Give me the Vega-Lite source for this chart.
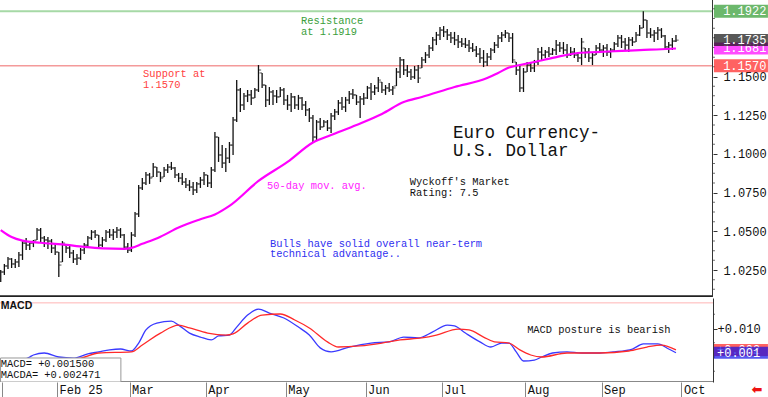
{
"$schema": "https://vega.github.io/schema/vega-lite/v6.json",
"padding": 0,
"background": "white",
"spacing": 1,
"bounds": "flush",
"config": {"view": {"stroke": null}},
"datasets": {
"ohlc": [
{"i":0,"o":1.0185,"h":1.0250,"l":1.0172,"c":1.0237},
{"i":1,"o":1.0237,"h":1.0289,"l":1.0218,"c":1.0276},
{"i":2,"o":1.0276,"h":1.0334,"l":1.0257,"c":1.0321},
{"i":3,"o":1.0321,"h":1.0327,"l":1.0263,"c":1.0289},
{"i":4,"o":1.0289,"h":1.0321,"l":1.0263,"c":1.0302},
{"i":5,"o":1.0302,"h":1.0366,"l":1.0269,"c":1.0347},
{"i":6,"o":1.0347,"h":1.0437,"l":1.0315,"c":1.0424},
{"i":7,"o":1.0424,"h":1.0457,"l":1.0379,"c":1.0411},
{"i":8,"o":1.0411,"h":1.0437,"l":1.0379,"c":1.0424},
{"i":9,"o":1.0424,"h":1.0444,"l":1.0398,"c":1.0437},
{"i":10,"o":1.0444,"h":1.0521,"l":1.0444,"c":1.0508},
{"i":11,"o":1.0508,"h":1.0521,"l":1.0424,"c":1.0457},
{"i":12,"o":1.0457,"h":1.0469,"l":1.0398,"c":1.0444},
{"i":13,"o":1.0444,"h":1.0463,"l":1.0386,"c":1.0437},
{"i":14,"o":1.0437,"h":1.0450,"l":1.0360,"c":1.0392},
{"i":15,"o":1.0392,"h":1.0424,"l":1.0347,"c":1.0366},
{"i":16,"o":1.0366,"h":1.0366,"l":1.0205,"c":1.0282},
{"i":17,"o":1.0302,"h":1.0437,"l":1.0302,"c":1.0424},
{"i":18,"o":1.0411,"h":1.0411,"l":1.0360,"c":1.0392},
{"i":19,"o":1.0392,"h":1.0411,"l":1.0327,"c":1.0360},
{"i":20,"o":1.0360,"h":1.0379,"l":1.0295,"c":1.0321},
{"i":21,"o":1.0321,"h":1.0353,"l":1.0282,"c":1.0327},
{"i":22,"o":1.0327,"h":1.0392,"l":1.0315,"c":1.0379},
{"i":23,"o":1.0379,"h":1.0424,"l":1.0353,"c":1.0411},
{"i":24,"o":1.0411,"h":1.0469,"l":1.0398,"c":1.0457},
{"i":25,"o":1.0457,"h":1.0508,"l":1.0444,"c":1.0495},
{"i":26,"o":1.0495,"h":1.0508,"l":1.0457,"c":1.0476},
{"i":27,"o":1.0476,"h":1.0476,"l":1.0392,"c":1.0411},
{"i":28,"o":1.0411,"h":1.0463,"l":1.0398,"c":1.0444},
{"i":29,"o":1.0444,"h":1.0508,"l":1.0431,"c":1.0495},
{"i":30,"o":1.0495,"h":1.0515,"l":1.0457,"c":1.0476},
{"i":31,"o":1.0476,"h":1.0515,"l":1.0444,"c":1.0495},
{"i":32,"o":1.0495,"h":1.0528,"l":1.0457,"c":1.0508},
{"i":33,"o":1.0508,"h":1.0521,"l":1.0457,"c":1.0476},
{"i":34,"o":1.0476,"h":1.0482,"l":1.0379,"c":1.0398},
{"i":35,"o":1.0398,"h":1.0424,"l":1.0360,"c":1.0379},
{"i":36,"o":1.0379,"h":1.0495,"l":1.0366,"c":1.0476},
{"i":37,"o":1.0476,"h":1.0625,"l":1.0463,"c":1.0612},
{"i":38,"o":1.0612,"h":1.0799,"l":1.0592,"c":1.0780},
{"i":39,"o":1.0780,"h":1.0844,"l":1.0767,"c":1.0812},
{"i":40,"o":1.0812,"h":1.0883,"l":1.0799,"c":1.0864},
{"i":41,"o":1.0864,"h":1.0877,"l":1.0806,"c":1.0844},
{"i":42,"o":1.0851,"h":1.0941,"l":1.0851,"c":1.0915},
{"i":43,"o":1.0915,"h":1.0915,"l":1.0851,"c":1.0883},
{"i":44,"o":1.0883,"h":1.0883,"l":1.0818,"c":1.0844},
{"i":45,"o":1.0851,"h":1.0915,"l":1.0851,"c":1.0896},
{"i":46,"o":1.0896,"h":1.0935,"l":1.0877,"c":1.0915},
{"i":47,"o":1.0915,"h":1.0948,"l":1.0896,"c":1.0909},
{"i":48,"o":1.0909,"h":1.0915,"l":1.0844,"c":1.0864},
{"i":49,"o":1.0864,"h":1.0877,"l":1.0818,"c":1.0844},
{"i":50,"o":1.0844,"h":1.0877,"l":1.0799,"c":1.0818},
{"i":51,"o":1.0818,"h":1.0844,"l":1.0780,"c":1.0799},
{"i":52,"o":1.0799,"h":1.0831,"l":1.0760,"c":1.0786},
{"i":53,"o":1.0786,"h":1.0818,"l":1.0735,"c":1.0767},
{"i":54,"o":1.0767,"h":1.0818,"l":1.0747,"c":1.0806},
{"i":55,"o":1.0806,"h":1.0851,"l":1.0780,"c":1.0831},
{"i":56,"o":1.0831,"h":1.0883,"l":1.0799,"c":1.0864},
{"i":57,"o":1.0864,"h":1.0864,"l":1.0786,"c":1.0812},
{"i":58,"o":1.0812,"h":1.0915,"l":1.0780,"c":1.0896},
{"i":59,"o":1.0896,"h":1.1142,"l":1.0883,"c":1.1109},
{"i":60,"o":1.1109,"h":1.1109,"l":1.0948,"c":1.0993},
{"i":61,"o":1.0993,"h":1.1057,"l":1.0909,"c":1.0941},
{"i":62,"o":1.0941,"h":1.1038,"l":1.0883,"c":1.0973},
{"i":63,"o":1.0973,"h":1.1077,"l":1.0941,"c":1.1057},
{"i":64,"o":1.1057,"h":1.1238,"l":1.0993,"c":1.1219},
{"i":65,"o":1.1219,"h":1.1477,"l":1.1206,"c":1.1413},
{"i":66,"o":1.1413,"h":1.1426,"l":1.1271,"c":1.1316},
{"i":67,"o":1.1316,"h":1.1393,"l":1.1284,"c":1.1374},
{"i":68,"o":1.1374,"h":1.1413,"l":1.1335,"c":1.1381},
{"i":69,"o":1.1381,"h":1.1413,"l":1.1316,"c":1.1361},
{"i":70,"o":1.1361,"h":1.1426,"l":1.1361,"c":1.1413},
{"i":71,"o":1.1413,"h":1.1574,"l":1.1400,"c":1.1542},
{"i":72,"o":1.1523,"h":1.1523,"l":1.1426,"c":1.1445},
{"i":73,"o":1.1445,"h":1.1445,"l":1.1303,"c":1.1348},
{"i":74,"o":1.1348,"h":1.1432,"l":1.1316,"c":1.1400},
{"i":75,"o":1.1400,"h":1.1413,"l":1.1316,"c":1.1374},
{"i":76,"o":1.1374,"h":1.1413,"l":1.1329,"c":1.1368},
{"i":77,"o":1.1368,"h":1.1432,"l":1.1368,"c":1.1413},
{"i":78,"o":1.1413,"h":1.1426,"l":1.1316,"c":1.1348},
{"i":79,"o":1.1348,"h":1.1381,"l":1.1284,"c":1.1316},
{"i":80,"o":1.1316,"h":1.1393,"l":1.1271,"c":1.1368},
{"i":81,"o":1.1368,"h":1.1374,"l":1.1290,"c":1.1316},
{"i":82,"o":1.1316,"h":1.1381,"l":1.1284,"c":1.1361},
{"i":83,"o":1.1361,"h":1.1368,"l":1.1284,"c":1.1316},
{"i":84,"o":1.1316,"h":1.1342,"l":1.1245,"c":1.1284},
{"i":85,"o":1.1284,"h":1.1297,"l":1.1206,"c":1.1232},
{"i":86,"o":1.1232,"h":1.1251,"l":1.1070,"c":1.1109},
{"i":87,"o":1.1109,"h":1.1219,"l":1.1090,"c":1.1206},
{"i":88,"o":1.1206,"h":1.1232,"l":1.1154,"c":1.1174},
{"i":89,"o":1.1174,"h":1.1219,"l":1.1174,"c":1.1206},
{"i":90,"o":1.1206,"h":1.1219,"l":1.1148,"c":1.1167},
{"i":91,"o":1.1167,"h":1.1264,"l":1.1135,"c":1.1245},
{"i":92,"o":1.1245,"h":1.1290,"l":1.1219,"c":1.1271},
{"i":93,"o":1.1271,"h":1.1348,"l":1.1251,"c":1.1329},
{"i":94,"o":1.1329,"h":1.1368,"l":1.1284,"c":1.1303},
{"i":95,"o":1.1303,"h":1.1368,"l":1.1271,"c":1.1348},
{"i":96,"o":1.1348,"h":1.1406,"l":1.1322,"c":1.1387},
{"i":97,"o":1.1387,"h":1.1419,"l":1.1355,"c":1.1381},
{"i":98,"o":1.1381,"h":1.1381,"l":1.1316,"c":1.1335},
{"i":99,"o":1.1335,"h":1.1374,"l":1.1232,"c":1.1355},
{"i":100,"o":1.1355,"h":1.1393,"l":1.1316,"c":1.1361},
{"i":101,"o":1.1361,"h":1.1439,"l":1.1355,"c":1.1426},
{"i":102,"o":1.1426,"h":1.1458,"l":1.1348,"c":1.1400},
{"i":103,"o":1.1400,"h":1.1445,"l":1.1381,"c":1.1426},
{"i":104,"o":1.1426,"h":1.1497,"l":1.1400,"c":1.1477},
{"i":105,"o":1.1464,"h":1.1464,"l":1.1393,"c":1.1413},
{"i":106,"o":1.1413,"h":1.1445,"l":1.1381,"c":1.1426},
{"i":107,"o":1.1426,"h":1.1458,"l":1.1400,"c":1.1413},
{"i":108,"o":1.1413,"h":1.1439,"l":1.1381,"c":1.1426},
{"i":109,"o":1.1439,"h":1.1555,"l":1.1439,"c":1.1529},
{"i":110,"o":1.1529,"h":1.1626,"l":1.1490,"c":1.1607},
{"i":111,"o":1.1607,"h":1.1613,"l":1.1510,"c":1.1542},
{"i":112,"o":1.1542,"h":1.1574,"l":1.1497,"c":1.1529},
{"i":113,"o":1.1529,"h":1.1549,"l":1.1477,"c":1.1497},
{"i":114,"o":1.1497,"h":1.1568,"l":1.1484,"c":1.1542},
{"i":115,"o":1.1542,"h":1.1574,"l":1.1458,"c":1.1490},
{"i":116,"o":1.1555,"h":1.1626,"l":1.1555,"c":1.1607},
{"i":117,"o":1.1607,"h":1.1658,"l":1.1587,"c":1.1639},
{"i":118,"o":1.1639,"h":1.1703,"l":1.1620,"c":1.1684},
{"i":119,"o":1.1684,"h":1.1755,"l":1.1665,"c":1.1736},
{"i":120,"o":1.1736,"h":1.1788,"l":1.1703,"c":1.1768},
{"i":121,"o":1.1768,"h":1.1820,"l":1.1736,"c":1.1800},
{"i":122,"o":1.1800,"h":1.1826,"l":1.1755,"c":1.1788},
{"i":123,"o":1.1788,"h":1.1807,"l":1.1736,"c":1.1768},
{"i":124,"o":1.1768,"h":1.1788,"l":1.1716,"c":1.1749},
{"i":125,"o":1.1749,"h":1.1788,"l":1.1703,"c":1.1736},
{"i":126,"o":1.1736,"h":1.1768,"l":1.1684,"c":1.1723},
{"i":127,"o":1.1723,"h":1.1749,"l":1.1691,"c":1.1710},
{"i":128,"o":1.1710,"h":1.1749,"l":1.1684,"c":1.1703},
{"i":129,"o":1.1703,"h":1.1736,"l":1.1658,"c":1.1684},
{"i":130,"o":1.1684,"h":1.1716,"l":1.1658,"c":1.1671},
{"i":131,"o":1.1671,"h":1.1697,"l":1.1626,"c":1.1645},
{"i":132,"o":1.1645,"h":1.1684,"l":1.1587,"c":1.1620},
{"i":133,"o":1.1620,"h":1.1671,"l":1.1561,"c":1.1594},
{"i":134,"o":1.1594,"h":1.1652,"l":1.1568,"c":1.1626},
{"i":135,"o":1.1626,"h":1.1684,"l":1.1607,"c":1.1671},
{"i":136,"o":1.1671,"h":1.1723,"l":1.1652,"c":1.1703},
{"i":137,"o":1.1703,"h":1.1768,"l":1.1684,"c":1.1749},
{"i":138,"o":1.1749,"h":1.1788,"l":1.1723,"c":1.1768},
{"i":139,"o":1.1768,"h":1.1800,"l":1.1749,"c":1.1781},
{"i":140,"o":1.1781,"h":1.1781,"l":1.1723,"c":1.1749},
{"i":141,"o":1.1749,"h":1.1781,"l":1.1587,"c":1.1607},
{"i":142,"o":1.1594,"h":1.1594,"l":1.1510,"c":1.1542},
{"i":143,"o":1.1542,"h":1.1581,"l":1.1400,"c":1.1426},
{"i":144,"o":1.1426,"h":1.1555,"l":1.1400,"c":1.1529},
{"i":145,"o":1.1529,"h":1.1594,"l":1.1529,"c":1.1574},
{"i":146,"o":1.1574,"h":1.1587,"l":1.1529,"c":1.1555},
{"i":147,"o":1.1555,"h":1.1607,"l":1.1529,"c":1.1594},
{"i":148,"o":1.1594,"h":1.1684,"l":1.1574,"c":1.1658},
{"i":149,"o":1.1658,"h":1.1691,"l":1.1607,"c":1.1639},
{"i":150,"o":1.1639,"h":1.1671,"l":1.1620,"c":1.1658},
{"i":151,"o":1.1658,"h":1.1691,"l":1.1626,"c":1.1645},
{"i":152,"o":1.1645,"h":1.1684,"l":1.1639,"c":1.1671},
{"i":153,"o":1.1671,"h":1.1736,"l":1.1639,"c":1.1703},
{"i":154,"o":1.1703,"h":1.1723,"l":1.1658,"c":1.1684},
{"i":155,"o":1.1684,"h":1.1723,"l":1.1645,"c":1.1671},
{"i":156,"o":1.1671,"h":1.1710,"l":1.1620,"c":1.1639},
{"i":157,"o":1.1639,"h":1.1691,"l":1.1632,"c":1.1658},
{"i":158,"o":1.1658,"h":1.1684,"l":1.1620,"c":1.1639},
{"i":159,"o":1.1639,"h":1.1658,"l":1.1594,"c":1.1620},
{"i":160,"o":1.1620,"h":1.1749,"l":1.1574,"c":1.1723},
{"i":161,"o":1.1684,"h":1.1684,"l":1.1620,"c":1.1658},
{"i":162,"o":1.1658,"h":1.1684,"l":1.1594,"c":1.1620},
{"i":163,"o":1.1620,"h":1.1658,"l":1.1574,"c":1.1639},
{"i":164,"o":1.1639,"h":1.1703,"l":1.1639,"c":1.1684},
{"i":165,"o":1.1684,"h":1.1716,"l":1.1652,"c":1.1671},
{"i":166,"o":1.1671,"h":1.1703,"l":1.1626,"c":1.1684},
{"i":167,"o":1.1684,"h":1.1710,"l":1.1632,"c":1.1658},
{"i":168,"o":1.1658,"h":1.1684,"l":1.1620,"c":1.1671},
{"i":169,"o":1.1671,"h":1.1723,"l":1.1658,"c":1.1710},
{"i":170,"o":1.1710,"h":1.1768,"l":1.1691,"c":1.1749},
{"i":171,"o":1.1749,"h":1.1768,"l":1.1684,"c":1.1723},
{"i":172,"o":1.1723,"h":1.1749,"l":1.1671,"c":1.1703},
{"i":173,"o":1.1703,"h":1.1755,"l":1.1658,"c":1.1736},
{"i":174,"o":1.1736,"h":1.1755,"l":1.1697,"c":1.1723},
{"i":175,"o":1.1723,"h":1.1788,"l":1.1723,"c":1.1768},
{"i":176,"o":1.1768,"h":1.1833,"l":1.1762,"c":1.1813},
{"i":177,"o":1.1813,"h":1.1922,"l":1.1813,"c":1.1865},
{"i":178,"o":1.1865,"h":1.1865,"l":1.1749,"c":1.1781},
{"i":179,"o":1.1781,"h":1.1813,"l":1.1749,"c":1.1768},
{"i":180,"o":1.1768,"h":1.1800,"l":1.1723,"c":1.1781},
{"i":181,"o":1.1781,"h":1.1820,"l":1.1736,"c":1.1800},
{"i":182,"o":1.1800,"h":1.1813,"l":1.1749,"c":1.1762},
{"i":183,"o":1.1762,"h":1.1768,"l":1.1671,"c":1.1691},
{"i":184,"o":1.1691,"h":1.1723,"l":1.1652,"c":1.1703},
{"i":185,"o":1.1703,"h":1.1749,"l":1.1671,"c":1.1729},
{"i":186,"o":1.1729,"h":1.1768,"l":1.1723,"c":1.1735}
],
"ma": [
{"i":0,"v":1.0508},{"i":3,"v":1.0463},{"i":6,"v":1.0440},{"i":11,"v":1.0426},{"i":17,"v":1.0415},{"i":23,"v":1.0399},{"i":28,"v":1.0390},{"i":34,"v":1.0387},{"i":36,"v":1.0393},{"i":39,"v":1.0419},{"i":44,"v":1.0465},{"i":49,"v":1.0525},{"i":55,"v":1.0578},{"i":59,"v":1.0609},{"i":63,"v":1.0664},{"i":71,"v":1.0825},{"i":79,"v":1.0948},{"i":86,"v":1.1074},{"i":91,"v":1.1122},{"i":98,"v":1.1187},{"i":105,"v":1.1258},{"i":111,"v":1.1335},{"i":116,"v":1.1368},{"i":125,"v":1.1432},{"i":134,"v":1.1490},{"i":137,"v":1.1523},{"i":140,"v":1.1558},{"i":143,"v":1.1574},{"i":147,"v":1.1594},{"i":152,"v":1.1620},{"i":159,"v":1.1652},{"i":164,"v":1.1658},{"i":171,"v":1.1665},{"i":176,"v":1.1671},{"i":182,"v":1.1676},{"i":186,"v":1.1681}
],
"macd": [
{"i":0,"v":-0.0030},{"i":5,"v":-0.0015},{"i":8,"v":0.0000},{"i":9,"v":0.0007},{"i":12,"v":0.0014},{"i":16,"v":0.0000},{"i":20,"v":-0.0004},{"i":24,"v":0.0011},{"i":27,"v":0.0018},{"i":30,"v":0.0025},{"i":33,"v":0.0028},{"i":36,"v":0.0021},{"i":38,"v":0.0049},{"i":40,"v":0.0095},{"i":43,"v":0.0119},{"i":47,"v":0.0126},{"i":49,"v":0.0112},{"i":52,"v":0.0084},{"i":55,"v":0.0070},{"i":58,"v":0.0060},{"i":60,"v":0.0074},{"i":63,"v":0.0077},{"i":65,"v":0.0105},{"i":68,"v":0.0147},{"i":71,"v":0.0168},{"i":74,"v":0.0154},{"i":78,"v":0.0137},{"i":82,"v":0.0105},{"i":85,"v":0.0077},{"i":88,"v":0.0032},{"i":91,"v":0.0018},{"i":96,"v":0.0035},{"i":102,"v":0.0049},{"i":107,"v":0.0053},{"i":111,"v":0.0070},{"i":115,"v":0.0067},{"i":119,"v":0.0088},{"i":123,"v":0.0112},{"i":125,"v":0.0109},{"i":128,"v":0.0084},{"i":132,"v":0.0053},{"i":135,"v":0.0035},{"i":138,"v":0.0049},{"i":140,"v":0.0049},{"i":142,"v":0.0018},{"i":144,"v":-0.0014},{"i":147,"v":-0.0011},{"i":149,"v":0.0000},{"i":152,"v":0.0014},{"i":156,"v":0.0018},{"i":160,"v":0.0014},{"i":165,"v":0.0014},{"i":169,"v":0.0018},{"i":174,"v":0.0028},{"i":177,"v":0.0046},{"i":181,"v":0.0046},{"i":184,"v":0.0028},{"i":186,"v":0.0015}
],
"sig": [
{"i":0,"v":-0.0030},{"i":10,"v":-0.0020},{"i":18,"v":-0.0008},{"i":22,"v":-0.0004},{"i":27,"v":0.0014},{"i":36,"v":0.0018},{"i":39,"v":0.0042},{"i":44,"v":0.0084},{"i":49,"v":0.0112},{"i":52,"v":0.0102},{"i":57,"v":0.0084},{"i":62,"v":0.0077},{"i":64,"v":0.0081},{"i":68,"v":0.0119},{"i":72,"v":0.0147},{"i":77,"v":0.0151},{"i":81,"v":0.0130},{"i":85,"v":0.0102},{"i":90,"v":0.0053},{"i":93,"v":0.0035},{"i":99,"v":0.0039},{"i":105,"v":0.0049},{"i":110,"v":0.0060},{"i":116,"v":0.0067},{"i":120,"v":0.0077},{"i":126,"v":0.0098},{"i":129,"v":0.0095},{"i":133,"v":0.0070},{"i":136,"v":0.0053},{"i":140,"v":0.0049},{"i":143,"v":0.0025},{"i":146,"v":0.0007},{"i":149,"v":0.0000},{"i":156,"v":0.0014},{"i":165,"v":0.0014},{"i":173,"v":0.0021},{"i":178,"v":0.0035},{"i":182,"v":0.0042},{"i":186,"v":0.002471}
],
"minorp": [
{"p":1.0125},{"p":1.01875},{"p":1.03125},{"p":1.0375},{"p":1.04375},{"p":1.05625},{"p":1.0625},{"p":1.06875},{"p":1.08125},{"p":1.0875},{"p":1.09375},{"p":1.10625},{"p":1.1125},{"p":1.11875},{"p":1.13125},{"p":1.1375},{"p":1.14375},{"p":1.15625},{"p":1.1625},{"p":1.16875},{"p":1.175},{"p":1.18125},{"p":1.1875},{"p":1.19375}
],
"minorm": [
{"p":-0.005},{"p":0},{"p":0.005},{"p":0.015}
]
},
"vconcat": [
{
"width": 713,
"height": 297,
"layer": [
{"data": {"values": [{}]}, "mark": {"type": "rule", "color": "#a6d9a6", "strokeWidth": 2, "clip": true},
 "encoding": {"x": {"datum": -0.2}, "x2": {"datum": 196.2}, "y": {"datum": 1.1922, "type": "quantitative"}}},
{"data": {"values": [{}]}, "mark": {"type": "rule", "color": "#f49a9a", "strokeWidth": 1.5, "clip": true},
 "encoding": {"x": {"datum": -0.2}, "x2": {"datum": 196.2}, "y": {"datum": 1.157, "type": "quantitative"}}},
{"data": {"name": "ohlc"}, "mark": {"type": "rule", "color": "#111111", "strokeWidth": 1.3, "clip": true},
 "encoding": {
  "x": {"field": "i", "type": "quantitative", "scale": {"domain": [-0.2, 196.2], "nice": false, "zero": false},
        "axis": {"domain": false, "ticks": false, "labels": false, "grid": false, "title": null}},
  "y": {"field": "l", "type": "quantitative", "scale": {"domain": [1.00756, 1.19942], "nice": false, "zero": false},
        "axis": {"orient": "right", "title": null, "grid": false, "domain": false,
                 "values": [1.025, 1.05, 1.075, 1.1, 1.125, 1.15],
                 "format": ".4f",
                 "tickSize": 4, "tickColor": "#333333", "labelPadding": 6,
                 "labelFont": "Liberation Mono", "labelFontSize": 12, "labelColor": "#111111", "labelFlush": false, "labelOverlap": false}},
  "y2": {"field": "h"}
 }},
{"data": {"name": "ohlc"}, "transform": [{"filter": "datum.i > 0"}], "mark": {"type": "tick", "orient": "horizontal", "color": "#111111", "size": 2.5, "thickness": 1, "xOffset": -1.4},
 "encoding": {"x": {"field": "i", "type": "quantitative"}, "y": {"field": "o", "type": "quantitative"}}},
{"data": {"name": "ohlc"}, "mark": {"type": "tick", "orient": "horizontal", "color": "#111111", "size": 2.5, "thickness": 1, "xOffset": 1.4},
 "encoding": {"x": {"field": "i", "type": "quantitative"}, "y": {"field": "c", "type": "quantitative"}}},
{"data": {"name": "ma"}, "mark": {"type": "line", "color": "#ff00ff", "strokeWidth": 2.2, "interpolate": "monotone", "strokeJoin": "round", "clip": true},
 "encoding": {"x": {"field": "i", "type": "quantitative"}, "y": {"field": "v", "type": "quantitative"}}},
{"data": {"values": [{}]}, "mark": {"type": "rule", "color": "#222222", "strokeWidth": 2, "clip": true},
 "encoding": {"x": {"datum": -0.2}, "x2": {"datum": 196.2}, "y": {"datum": 1.00801, "type": "quantitative"}}},
{"data": {"values": [{}]}, "mark": {"type": "rule", "color": "#333333", "strokeWidth": 1, "clip": true},
 "encoding": {"x": {"datum": 196.07}, "y": {"datum": 1.00756}, "y2": {"datum": 1.19942}}},
{"data": {"name": "minorp"}, "mark": {"type": "tick", "orient": "horizontal", "color": "#333333", "size": 2, "thickness": 1, "xOffset": 1},
 "encoding": {"x": {"datum": 196.2}, "y": {"field": "p", "type": "quantitative"}}},
{"data": {"values": [{}]}, "mark": {"type": "text", "align": "left", "baseline": "alphabetic", "font": "Liberation Mono", "fontSize": 10.4, "lineHeight": 11, "color": "#3a9e3a", "text": ["Resistance", "at 1.1919"]},
 "encoding": {"x": {"datum": 82.7}, "y": {"datum": 1.1842}}},
{"data": {"values": [{}]}, "mark": {"type": "text", "align": "left", "baseline": "alphabetic", "font": "Liberation Mono", "fontSize": 10.4, "lineHeight": 11, "color": "#ff4040", "text": ["Support at", "1.1570"]},
 "encoding": {"x": {"datum": 39.2}, "y": {"datum": 1.1494}}},
{"data": {"values": [{}]}, "mark": {"type": "text", "align": "left", "baseline": "alphabetic", "font": "Liberation Mono", "fontSize": 17.5, "lineHeight": 18, "color": "#111111", "text": ["Euro Currency-", "U.S. Dollar"]},
 "encoding": {"x": {"datum": 124.6}, "y": {"datum": 1.1103}}},
{"data": {"values": [{}]}, "mark": {"type": "text", "align": "left", "baseline": "alphabetic", "font": "Liberation Mono", "fontSize": 10.4, "lineHeight": 10.5, "color": "#111111", "text": ["Wyckoff's Market", "Rating: 7.5"]},
 "encoding": {"x": {"datum": 112.7}, "y": {"datum": 1.0799}}},
{"data": {"values": [{}]}, "mark": {"type": "text", "align": "left", "baseline": "alphabetic", "font": "Liberation Mono", "fontSize": 10.4, "color": "#ff22ff", "text": "50-day mov. avg."},
 "encoding": {"x": {"datum": 73.35}, "y": {"datum": 1.0773}}},
{"data": {"values": [{}]}, "mark": {"type": "text", "align": "left", "baseline": "alphabetic", "font": "Liberation Mono", "fontSize": 10.4, "lineHeight": 10.5, "color": "#3030f0", "text": ["Bulls have solid overall near-term", "technical advantage.."]},
 "encoding": {"x": {"datum": 74.2}, "y": {"datum": 1.0399}}},
{"data": {"values": [{}]}, "mark": {"type": "tick", "orient": "horizontal", "color": "#ff00ff", "size": 54, "thickness": 12},
 "encoding": {"x": {"datum": 203.9}, "y": {"datum": 1.1681}}},
{"data": {"values": [{}]}, "mark": {"type": "text", "align": "left", "baseline": "middle", "font": "Liberation Mono", "fontSize": 12, "color": "white", "text": "1.1681"},
 "encoding": {"x": {"datum": 199.0}, "y": {"datum": 1.1681}}},
{"data": {"values": [{}]}, "mark": {"type": "tick", "orient": "horizontal", "color": "#111111", "size": 54, "thickness": 12},
 "encoding": {"x": {"datum": 203.9}, "y": {"datum": 1.1735}}},
{"data": {"values": [{}]}, "mark": {"type": "text", "align": "left", "baseline": "middle", "font": "Liberation Mono", "fontSize": 12, "color": "white", "text": "1.1735"},
 "encoding": {"x": {"datum": 199.0}, "y": {"datum": 1.1735}}},
{"data": {"values": [{}]}, "mark": {"type": "tick", "orient": "horizontal", "color": "#2e9a2e", "size": 54, "thickness": 13},
 "encoding": {"x": {"datum": 203.9}, "y": {"datum": 1.1922}}},
{"data": {"values": [{}]}, "mark": {"type": "text", "align": "left", "baseline": "middle", "font": "Liberation Mono", "fontSize": 12, "color": "white", "text": "1.1922"},
 "encoding": {"x": {"datum": 199.0}, "y": {"datum": 1.1922}}},
{"data": {"values": [{}]}, "mark": {"type": "tick", "orient": "horizontal", "color": "#ff1f1f", "size": 54, "thickness": 13},
 "encoding": {"x": {"datum": 203.9}, "y": {"datum": 1.157}}},
{"data": {"values": [{}]}, "mark": {"type": "text", "align": "left", "baseline": "middle", "font": "Liberation Mono", "fontSize": 12, "color": "white", "text": "1.1570"},
 "encoding": {"x": {"datum": 199.0}, "y": {"datum": 1.157}}}
]
},
{
"width": 713,
"height": 84,
"layer": [
{"data": {"name": "macd"}, "mark": {"type": "line", "color": "#3a3aff", "strokeWidth": 1.3, "interpolate": "monotone", "strokeJoin": "round", "clip": true},
 "encoding": {
  "x": {"field": "i", "type": "quantitative", "scale": {"domain": [-0.2, 196.2], "nice": false, "zero": false},
        "axis": {"orient": "bottom", "title": null, "grid": false, "domain": false,
                 "values": [0.3, 15.5, 35.5, 56.5, 78.5, 100.5, 121.5, 144.5, 165.5, 187.5],
                 "labelExpr": "datum.value == 15.5 ? 'Feb 25' : datum.value == 35.5 ? 'Mar' : datum.value == 56.5 ? 'Apr' : datum.value == 78.5 ? 'May' : datum.value == 100.5 ? 'Jun' : datum.value == 121.5 ? 'Jul' : datum.value == 144.5 ? 'Aug' : datum.value == 165.5 ? 'Sep' : datum.value == 187.5 ? 'Oct' : ''",
                 "tickSize": 15, "tickColor": "#888888", "labelAlign": "left", "labelBaseline": "top", "labelPadding": -13, "labelOffset": 2,
                 "labelFont": "Liberation Mono", "labelFontSize": 12, "labelColor": "#111111", "labelFlush": false, "labelOverlap": false}},
  "y": {"field": "v", "type": "quantitative", "scale": {"domain": [-0.00878, 0.02071], "nice": false, "zero": false},
        "axis": {"orient": "right", "title": null, "grid": false,
                 "values": [0.01],
                 "format": "+.3f",
                 "tickSize": 4, "tickColor": "#333333", "domainColor": "#333333", "labelPadding": 0,
                 "labelFont": "Liberation Mono", "labelFontSize": 12, "labelColor": "#111111", "labelFlush": false, "labelOverlap": false}}
 }},
{"data": {"name": "sig"}, "mark": {"type": "line", "color": "#ff2a2a", "strokeWidth": 1.3, "interpolate": "monotone", "strokeJoin": "round", "clip": true},
 "encoding": {"x": {"field": "i", "type": "quantitative"}, "y": {"field": "v", "type": "quantitative"}}},
{"data": {"values": [{}]}, "mark": {"type": "rule", "color": "#ffb4b4", "strokeWidth": 1, "clip": true},
 "encoding": {"x": {"datum": -0.2}, "x2": {"datum": 196.2}, "y": {"datum": 0.019, "type": "quantitative"}}},
{"data": {"values": [{}]}, "mark": {"type": "rule", "color": "#888888", "strokeWidth": 1, "clip": true},
 "encoding": {"x": {"datum": -0.2}, "x2": {"datum": 196.2}, "y": {"datum": -0.0086, "type": "quantitative"}}},
{"data": {"name": "minorm"}, "mark": {"type": "tick", "orient": "horizontal", "color": "#333333", "size": 2, "thickness": 1, "xOffset": 1},
 "encoding": {"x": {"datum": 196.2}, "y": {"field": "p", "type": "quantitative"}}},
{"data": {"values": [{}]}, "mark": {"type": "rect", "fill": "white", "stroke": "#999999", "strokeWidth": 1, "clip": true},
 "encoding": {"x": {"datum": -0.05}, "x2": {"datum": 33.1}, "y": {"datum": -0.00035}, "y2": {"datum": -0.00878}}},
{"data": {"values": [{}]}, "mark": {"type": "text", "align": "left", "baseline": "alphabetic", "font": "Liberation Mono", "fontSize": 10.4, "color": "#111111", "text": "MACD=   +0.001500"},
 "encoding": {"x": {"datum": 0.0}, "y": {"datum": -0.00351}}},
{"data": {"values": [{}]}, "mark": {"type": "text", "align": "left", "baseline": "alphabetic", "font": "Liberation Mono", "fontSize": 10.4, "color": "#111111", "text": "MACDA=  +0.002471"},
 "encoding": {"x": {"datum": 0.0}, "y": {"datum": -0.00737}}},
{"data": {"values": [{}]}, "mark": {"type": "text", "align": "left", "baseline": "alphabetic", "font": "Liberation Sans", "fontWeight": "bold", "fontSize": 10.5, "color": "#111111", "text": "MACD"},
 "encoding": {"x": {"datum": 0.0}, "y": {"datum": 0.01685}}},
{"data": {"values": [{}]}, "mark": {"type": "text", "align": "left", "baseline": "alphabetic", "font": "Liberation Mono", "fontSize": 10.4, "color": "#111111", "text": "MACD posture is bearish"},
 "encoding": {"x": {"datum": 145.0}, "y": {"datum": 0.00842}}},
{"data": {"values": [{}]}, "mark": {"type": "tick", "orient": "horizontal", "color": "#ff1f1f", "size": 54, "thickness": 12},
 "encoding": {"x": {"datum": 203.9}, "y": {"datum": 0.002471}}},
{"data": {"values": [{}]}, "mark": {"type": "text", "align": "left", "baseline": "middle", "font": "Liberation Mono", "fontSize": 12, "color": "white", "text": "+0.002"},
 "encoding": {"x": {"datum": 197.3}, "y": {"datum": 0.002471}}},
{"data": {"values": [{}]}, "mark": {"type": "tick", "orient": "horizontal", "color": "#1010e8", "size": 54, "thickness": 12},
 "encoding": {"x": {"datum": 203.9}, "y": {"datum": 0.0015}}},
{"data": {"values": [{}]}, "mark": {"type": "text", "align": "left", "baseline": "middle", "font": "Liberation Mono", "fontSize": 12, "color": "white", "text": "+0.001"},
 "encoding": {"x": {"datum": 197.3}, "y": {"datum": 0.0015}}},
{"data": {"values": [{}]}, "mark": {"type": "text", "align": "center", "baseline": "middle", "font": "DejaVu Sans", "fontWeight": "bold", "fontSize": 13, "color": "#ee1111", "text": "⬅"},
 "encoding": {"x": {"datum": 208.3}, "y": {"datum": -0.01158}}}
]
}
]
}
